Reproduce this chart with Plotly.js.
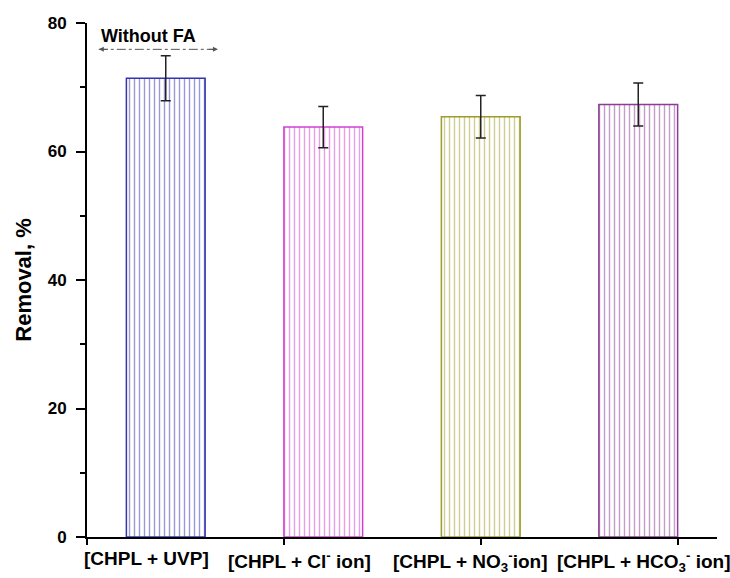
<!DOCTYPE html>
<html>
<head>
<meta charset="utf-8">
<script src="https://cdn.plot.ly/plotly-3.0.1.min.js"></script>
<style>html,body{margin:0;padding:0;background:#fff;}#chart{width:730px;height:578px;}</style>
</head>
<body>
<div id="chart"></div>
<script>
// Data
const categories = ["[CHPL + UVP]", "[CHPL + Cl<sup>-</sup> ion]", "[CHPL + NO<sub>3</sub><sup>-</sup>ion]", "[CHPL + HCO<sub>3</sub><sup>-</sup> ion]"];
const barPos = [0.4, 1.2, 2.0, 2.8];
const labelPos = [0.30, 1.08, 1.95, 2.83];
const removal = [71.4, 63.8, 65.4, 67.3];
const errors = [3.5, 3.2, 3.3, 3.35];
const colors = ["#3434b0", "#d040d0", "#9c9c2c", "#8c3c94"];
const yTicks = [0, 20, 40, 60, 80];
const xTicks = [0, 1, 2, 3];

const FONT = "Liberation Sans, Arial, sans-serif";

const bars = {
  type: "bar",
  x: barPos,
  y: removal,
  width: 0.4,
  marker: {
    color: "white",
    line: {color: colors, width: 1.5},
    pattern: {shape: "|", size: 5, solidity: 0.28, fgcolor: colors, bgcolor: "white", fillmode: "overlay"}
  },
  error_y: {type: "data", array: errors, visible: true, color: "#222", thickness: 1.5, width: 5},
  showlegend: false,
  hoverinfo: "skip"
};

const annotations = categories.map((c, i) => ({
  x: labelPos[i], xref: "x", y: -0.018, yref: "paper", yanchor: "top",
  text: "<b>" + c + "</b>", showarrow: false,
  font: {family: FONT, size: 19, color: "#000"}
}));
annotations.push({
  x: 0.31, xref: "x", y: 78.0, yref: "y", text: "<b>Without FA</b>", showarrow: false,
  font: {family: FONT, size: 18, color: "#000"}
});
// arrow heads
annotations.push({x: 0.06, y: 75.9, xref: "x", yref: "y", ax: 12, ay: 0, text: " ", showarrow: true, arrowhead: 2, arrowsize: 1, arrowwidth: 1, arrowcolor: "#555"});
annotations.push({x: 0.665, y: 75.9, xref: "x", yref: "y", ax: -12, ay: 0, text: " ", showarrow: true, arrowhead: 2, arrowsize: 1, arrowwidth: 1, arrowcolor: "#555"});

const layout = {
  width: 730, height: 578,
  margin: {l: 87, r: 13, t: 23, b: 41},
  paper_bgcolor: "white", plot_bgcolor: "white",
  font: {family: FONT, color: "#000"},
  bargap: 0,
  xaxis: {
    range: [0, 3.2], tickvals: xTicks, showticklabels: false,
    ticks: "outside", ticklen: 6, tickwidth: 2, tickcolor: "#000",
    showline: true, linewidth: 2, linecolor: "#000", showgrid: false, zeroline: false, fixedrange: true
  },
  xaxis2: {
    overlaying: "x", side: "top", range: [0, 3.2], tickvals: xTicks, showticklabels: false,
    ticks: "inside", ticklen: 6, tickwidth: 2, tickcolor: "#000",
    showline: true, linewidth: 2, linecolor: "#000", showgrid: false, zeroline: false
  },
  yaxis: {
    range: [0, 80], tickvals: yTicks,
    ticks: "outside", ticklen: 9, tickwidth: 2, tickcolor: "#000",
    minor: {dtick: 10, ticks: "outside", ticklen: 5, tickwidth: 2, tickcolor: "#000"},
    showline: true, linewidth: 2, linecolor: "#000", showgrid: false, zeroline: false,
    ticklabelstandoff: 6,
    tickfont: {family: FONT, size: 17, weight: "bold"},
    title: {text: "<b>Removal, %</b>", font: {family: FONT, size: 22}, standoff: 10}
  },
  yaxis2: {
    overlaying: "y", side: "right", range: [0, 80], tickvals: yTicks, showticklabels: false,
    ticks: "inside", ticklen: 12, tickwidth: 2, tickcolor: "#000",
    minor: {dtick: 10, ticks: "inside", ticklen: 12, tickwidth: 2, tickcolor: "#000"},
    showline: true, linewidth: 2, linecolor: "#000", showgrid: false, zeroline: false
  },
  shapes: [{
    type: "line", xref: "x", yref: "y", x0: 0.06, x1: 0.665, y0: 75.9, y1: 75.9,
    line: {color: "#555", width: 1, dash: "dashdot"}
  }],
  annotations: annotations
};

Plotly.newPlot("chart", [bars], layout, {displayModeBar: false, staticPlot: true});
</script>
</body>
</html>
